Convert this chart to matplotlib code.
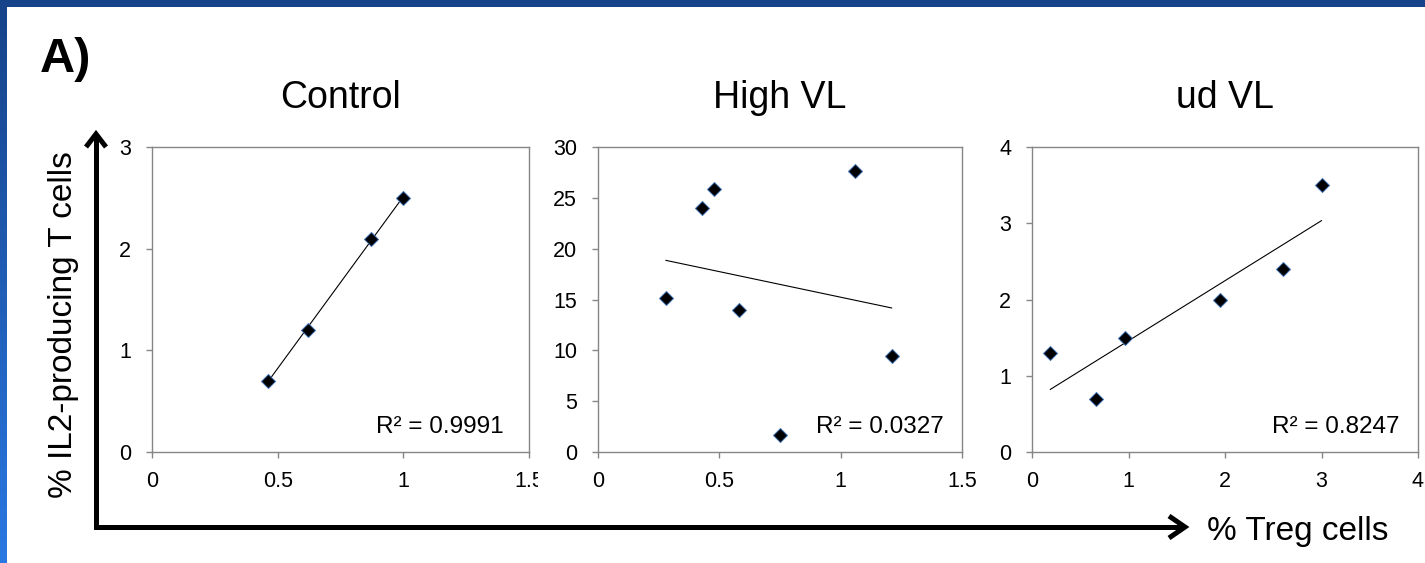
# treg_il2_scatter.py
# Three small scatter panels (Control / High VL / ud VL) with linear trendlines,
# drawn the way the Excel figure looks: gray axis frame, black diamonds, R² in the corner.

import numpy as np
import matplotlib
matplotlib.use("Agg")
import matplotlib.pyplot as plt
from matplotlib.lines import Line2D
from matplotlib.patches import Rectangle


# -------------------------
# Data
# -------------------------
panel_titles = ["Control", "High VL", "ud VL"]

control_x = [0.46, 0.62, 0.87, 1.00]
control_y = [0.70, 1.20, 2.10, 2.50]

high_x = [0.28, 0.43, 0.48, 0.58, 0.75, 1.06, 1.21]
high_y = [15.1, 24.0, 25.9, 14.0, 1.7, 27.6, 9.4]

ud_x = [0.19, 0.66, 0.96, 1.95, 2.60, 3.00]
ud_y = [1.30, 0.70, 1.50, 2.00, 2.40, 3.50]

r2_labels = ["R² = 0.9991", "R² = 0.0327", "R² = 0.8247"]

x_ticks = [[0, 0.5, 1, 1.5], [0, 0.5, 1, 1.5], [0, 1, 2, 3, 4]]
x_tick_labels = [["0", "0.5", "1", "1.5"], ["0", "0.5", "1", "1.5"], ["0", "1", "2", "3", "4"]]
y_ticks = [[0, 1, 2, 3], [0, 5, 10, 15, 20, 25, 30], [0, 1, 2, 3, 4]]

y_label = "% IL2-producing T cells"
x_label = "% Treg cells"
panel_tag = "A)"


# -------------------------
# Figure geometry (pixels)
# -------------------------
W, H = 1425, 563
GRAY = "#868686"

plt.rcParams["font.family"] = ["Liberation Sans", "DejaVu Sans"]

fig = plt.figure(figsize=(W / 100, H / 100), dpi=100)
fig.patch.set_facecolor("white")


def fx(x):
    return x / W


def fy(y):
    return 1 - y / H


# axes boxes: left, right in px; shared top/bottom
boxes = [(152, 529), (598, 962), (1032, 1418)]
top_px, bot_px = 147, 452
r2_gap = [18, 13, 13]  # points in from the right edge

series = [(control_x, control_y), (high_x, high_y), (ud_x, ud_y)]

axes = []
for i, ((l, r), (xs, ys)) in enumerate(zip(boxes, series)):
    ax = fig.add_axes([fx(l), fy(bot_px), (r - l) / W, (bot_px - top_px) / H])
    axes.append(ax)

    xs = np.asarray(xs)
    ys = np.asarray(ys)

    # trendline (least squares), drawn over the data range like Excel does
    slope, icpt = np.polyfit(xs, ys, 1)
    xx = np.array([xs.min(), xs.max()])
    ax.plot(xx, slope * xx + icpt, color="black", lw=0.8, zorder=2)

    ax.plot(xs, ys, linestyle="none", marker="D", ms=7, mfc="black",
            mec="#3d6fb0", mew=0.7, zorder=3)

    ax.set_xlim(x_ticks[i][0], x_ticks[i][-1])
    ax.set_ylim(y_ticks[i][0], y_ticks[i][-1])
    ax.set_xticks(x_ticks[i])
    ax.set_xticklabels(x_tick_labels[i])
    ax.set_yticks(y_ticks[i])

    for sp in ax.spines.values():
        sp.set_color(GRAY)
        sp.set_linewidth(1.0)

    ax.tick_params(axis="both", direction="out", length=4.5, width=1.0,
                   color=GRAY, labelsize=15.5)
    ax.tick_params(axis="x", pad=9)
    ax.tick_params(axis="y", pad=10.5)

    ax.text(0.5, 1 + 39 / (bot_px - top_px), panel_titles[i], transform=ax.transAxes,
            ha="center", va="baseline", fontsize=27)

    ax.annotate(r2_labels[i], xy=(1, 0), xycoords="axes fraction",
                xytext=(-r2_gap[i], 18), textcoords="offset points",
                ha="right", va="center", fontsize=17.5)

# the first panel's "1.5" gets cut off by the neighbour panel in the original
clip_rect = Rectangle((0, 0), fx(538), 1, transform=fig.transFigure,
                      facecolor="none", edgecolor="none")
fig.add_artist(clip_rect)
clip_rect.set_visible(False)
for lab in axes[0].xaxis.get_majorticklabels():
    lab.set_clip_on(True)
    lab.set_clip_path(clip_rect)


# -------------------------
# Big L-shaped axis arrows + labels
# -------------------------
arrow_kw = dict(color="black", lw=3.6, transform=fig.transFigure,
                solid_joinstyle="miter", solid_capstyle="butt")
ax_x0, ax_y0 = 96, 527
fig.add_artist(Line2D([fx(ax_x0), fx(ax_x0), fx(1184)],
                      [fy(136), fy(ax_y0), fy(ax_y0)], **arrow_kw))
# arrow heads (open chevrons)
fig.add_artist(Line2D([fx(86), fx(ax_x0), fx(106)], [fy(147), fy(134), fy(147)], **arrow_kw))
fig.add_artist(Line2D([fx(1169), fx(1185), fx(1169)], [fy(516), fy(ax_y0), fy(538)], **arrow_kw))

fig.text(fx(64), fy(325), y_label, rotation=90, ha="center", va="center", fontsize=24)
fig.text(fx(1207), fy(540), x_label, ha="left", va="baseline", fontsize=24)

fig.text(fx(40), fy(72), panel_tag, ha="left", va="baseline", fontsize=35, fontweight="bold")


# -------------------------
# Slide-style blue frame on top and left
# -------------------------
fig.add_artist(Rectangle((0, fy(7)), 1, 7 / H, transform=fig.transFigure,
                         facecolor="#16438a", edgecolor="none", zorder=10))
band = fig.add_axes([0, 0, 7 / W, fy(7)])
band.set_axis_off()
top_c = np.array([0x16, 0x43, 0x8a]) / 255
bot_c = np.array([0x2a, 0x78, 0xe2]) / 255
t = np.linspace(0, 1, 256)[:, None]
grad = (top_c * (1 - t) + bot_c * t)[:, None, :]
band.imshow(grad, aspect="auto", extent=[0, 1, 0, 1])

fig.savefig("out.png", dpi=100)
